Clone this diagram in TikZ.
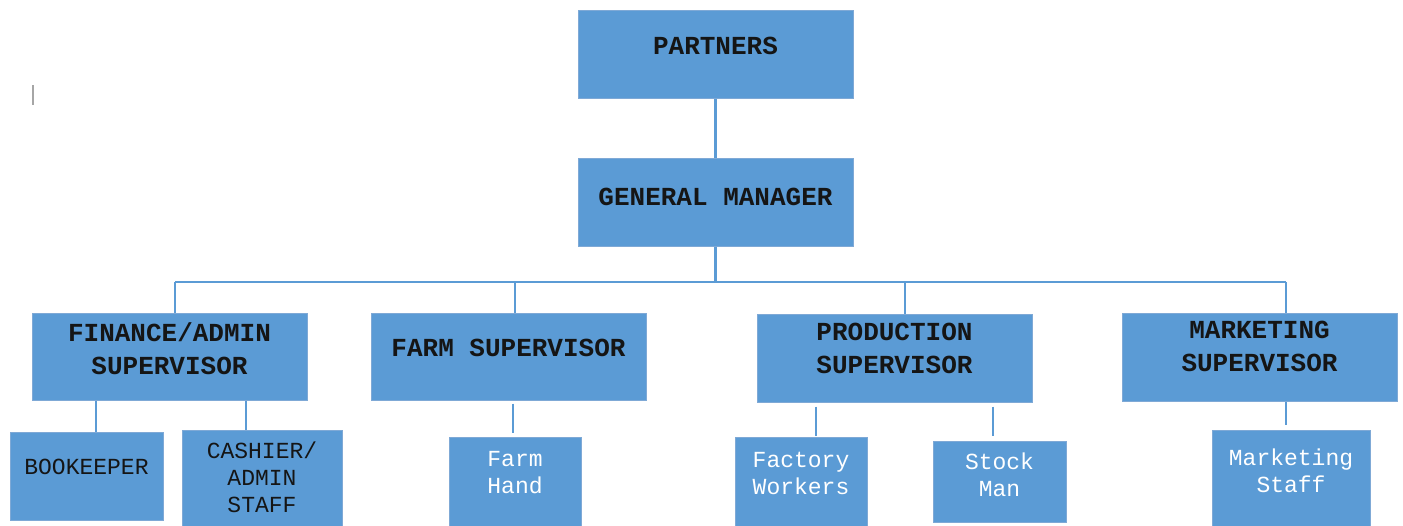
\documentclass[tikz,border=0pt]{standalone}
\usepackage{fontspec}
\setmonofont{Liberation Mono}
\definecolor{boxblue}{HTML}{5B9BD5}
\definecolor{edgeblue}{HTML}{7FA9D6}
\definecolor{darktext}{HTML}{151515}
\begin{document}
\begin{tikzpicture}[x=1pt,y=-1pt,
  orgbox/.style={rectangle, fill=boxblue, draw=edgeblue, line width=1pt, inner sep=0pt},
  headtxt/.style={font=\fontsize{26}{33}\selectfont\ttfamily\bfseries, text=darktext, align=center, inner sep=0pt},
  darktxt/.style={font=\fontsize{23}{27}\selectfont\ttfamily, text=darktext, align=center, inner sep=0pt},
  whitetxt/.style={font=\fontsize{23}{27}\selectfont\ttfamily, text=white, align=center, inner sep=0pt},
  link/.style={draw=boxblue, line width=2.2pt}]
\useasboundingbox (0,0) rectangle (1403,525);

% top level boxes
\node[orgbox, minimum width=275, minimum height=88] (partners) at (715.5,54) {};
\node[headtxt] (partnersT) at (715.5,46) {PARTNERS};
\node[orgbox, minimum width=275, minimum height=88] (gm) at (715.5,202) {};
\node[headtxt] (gmT) at (715.5,197) {GENERAL MANAGER};

% supervisors
\node[orgbox, minimum width=275, minimum height=87] (fin) at (169.5,356.5) {};
\node[headtxt] (finT) at (169.5,348.5) {FINANCE/ADMIN\\SUPERVISOR};
\node[orgbox, minimum width=275, minimum height=87] (farm) at (508.5,356.5) {};
\node[headtxt] (farmT) at (508.5,348) {FARM SUPERVISOR};
\node[orgbox, minimum width=275, minimum height=88] (prod) at (894.5,358) {};
\node[headtxt] (prodT) at (894.5,348) {PRODUCTION\\SUPERVISOR};
\node[orgbox, minimum width=275, minimum height=88] (mkt) at (1259.5,357) {};
\node[headtxt] (mktT) at (1259.5,346.5) {MARKETING\\SUPERVISOR};

% staff
\node[orgbox, minimum width=153, minimum height=88] (book) at (86.5,476) {};
\node[darktxt] (bookT) at (86.5,467) {BOOKEEPER};
\node[orgbox, minimum width=160, minimum height=100] (cash) at (262,480) {};
\node[darktxt] (cashT) at (262,477) {CASHIER/\\ADMIN\\STAFF};
\node[orgbox, minimum width=132, minimum height=92] (hand) at (515,483) {};
\node[whitetxt] (handT) at (515,472.5) {Farm\\Hand};
\node[orgbox, minimum width=132, minimum height=92] (fact) at (801,483) {};
\node[whitetxt] (factT) at (801,473.5) {Factory\\Workers};
\node[orgbox, minimum width=133, minimum height=81] (stock) at (999.5,481.5) {};
\node[whitetxt] (stockT) at (999.5,474.5) {Stock\\Man};
\node[orgbox, minimum width=158, minimum height=98] (mstaff) at (1291,479) {};
\node[whitetxt] (mstaffT) at (1291,471) {Marketing\\Staff};

% bus coordinates
\coordinate (busG) at (715.5,282);
\coordinate (busL) at (175,282);
\coordinate (busR) at (1286,282);
\coordinate (busFarm) at (515,282);
\coordinate (busProd) at (905,282);

% connectors
\draw[link] (partners.south) -- (gm.north);
\draw[link] (gm.south) -- (busG);
\draw[link] (busL) -- (busR);
\draw[link] (busL) -- (busL |- fin.north);
\draw[link] (busFarm) -- (busFarm |- farm.north);
\draw[link] (busProd) -- (busProd |- prod.north);
\draw[link] (busR) -- (busR |- mkt.north);

\coordinate (finA) at ([xshift=-73.5pt]fin.south);
\coordinate (finB) at ([xshift=76.5pt]fin.south);
\draw[link] (finA) -- (finA |- book.north);
\draw[link] (finB) -- (finB |- cash.north);
\coordinate (farmA) at ([xshift=4.5pt,yshift=-3pt]farm.south);
\draw[link] (farmA) -- ([yshift=4pt]farmA |- hand.north);
\coordinate (prodA) at ([xshift=-78.5pt,yshift=-4pt]prod.south);
\coordinate (prodB) at ([xshift=98.5pt,yshift=-4pt]prod.south);
\draw[link] (prodA) -- ([yshift=1pt]prodA |- fact.north);
\draw[link] (prodB) -- ([yshift=5pt]prodB |- stock.north);
\coordinate (mktA) at ([xshift=26.5pt]mkt.south);
\draw[link] (mktA) -- ([yshift=5pt]mktA |- mstaff.north);

% stray mark
\coordinate (markTop) at (33,85);
\coordinate (markBot) at (33,105);
\draw[gray!70, line width=1.2pt] (markTop) -- (markBot);
\end{tikzpicture}
\end{document}
